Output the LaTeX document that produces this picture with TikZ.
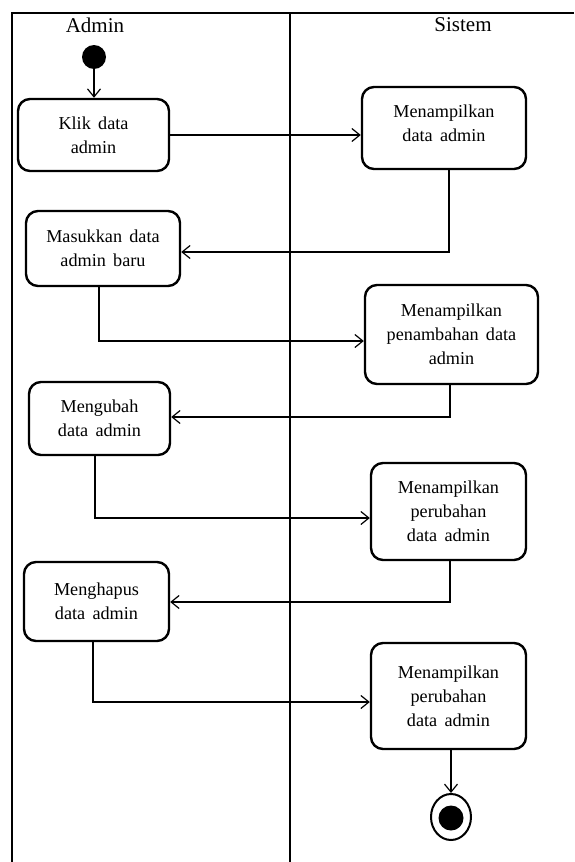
\documentclass[tikz,border=0pt]{standalone}
\usepackage{fontspec}
\setmainfont{Liberation Serif}[WordSpace=1.6]
\usetikzlibrary{arrows.meta,shapes.geometric}

\begin{document}
\begin{tikzpicture}[x=1pt,y=-1pt,
  lane/.style={line width=1.3pt},
  act/.style={draw, line width=2.4pt, rounded corners=12pt, align=center,
    inner sep=0pt, font=\fontsize{18.2}{24}\selectfont},
  flow/.style={line width=1.2pt, -{Straight Barb[length=8pt,width=13pt,line width=1.2pt]}},
  lanetitle/.style={font=\fontsize{21}{24}\selectfont, inner sep=0pt}
]
\useasboundingbox (0,0) rectangle (574,862);

% swimlane frame
\draw[lane] (574,13) -- (12,13) -- (12,862);
\draw[lane] (290,13) -- (290,862);
\node[lanetitle] (tadmin) at (95,25) {Admin};
\node[lanetitle] (tsistem) at (463,25) {Sistem};

% initial and final states
\node[fill=black, circle, minimum size=24pt, inner sep=0pt] (start) at (94,57) {};
\node[draw, ellipse, line width=2pt, minimum width=40pt, minimum height=46pt, inner sep=0pt] (stop) at (451,817) {};
\node[fill=black, circle, minimum size=25pt, inner sep=0pt] (stopdot) at (451,818) {};

% activities
\node[act, minimum width=151pt, minimum height=72pt] (klik) at (93.5,135) {Klik data\\admin};
\node[act, minimum width=164pt, minimum height=82pt,
  label={[align=center, inner sep=0pt, font=\fontsize{18.2}{24}\selectfont, yshift=5pt]center:Menampilkan\\data admin}]
  (tampil) at (444,128) {};
\node[act, minimum width=154pt, minimum height=75pt] (masuk) at (103,248.5) {Masukkan data\\admin baru};
\node[act, minimum width=173pt, minimum height=99pt] (tambah) at (451.5,334.5) {Menampilkan\\penambahan data\\admin};
\node[act, minimum width=141pt, minimum height=73pt] (ubah) at (99.5,418.5) {Mengubah\\data admin};
\node[act, minimum width=155pt, minimum height=97pt] (hasilubah) at (448.5,511.5) {Menampilkan\\perubahan\\data admin};
\node[act, minimum width=145pt, minimum height=79pt] (hapus) at (96.5,601.5) {Menghapus\\data admin};
\node[act, minimum width=155pt, minimum height=106pt] (hasilhapus) at (448.5,696) {Menampilkan\\perubahan\\data admin};

% control flow
\draw[flow] (start) -- (klik.north -| start);
\draw[flow] (klik.east) -- (klik.east -| tampil.west);
\draw[flow] ([xshift=5pt]tampil.south) |- ([yshift=-3.5pt]masuk.east);
\draw[flow] ([xshift=-4pt]masuk.south) |- ([yshift=-6.5pt]tambah.west);
\draw[flow] ([xshift=-1.5pt]tambah.south) |- ([yshift=1.5pt]ubah.east);
\draw[flow] ([xshift=-4.5pt]ubah.south) |- ([yshift=-6.5pt]hasilubah.west);
\draw[flow] ([xshift=1.5pt]hasilubah.south) |- ([yshift=-0.5pt]hapus.east);
\draw[flow] ([xshift=-3.5pt]hapus.south) |- ([yshift=-6pt]hasilhapus.west);
\draw[flow] (hasilhapus.south -| stop) -- (stop.north);
\end{tikzpicture}
\end{document}
